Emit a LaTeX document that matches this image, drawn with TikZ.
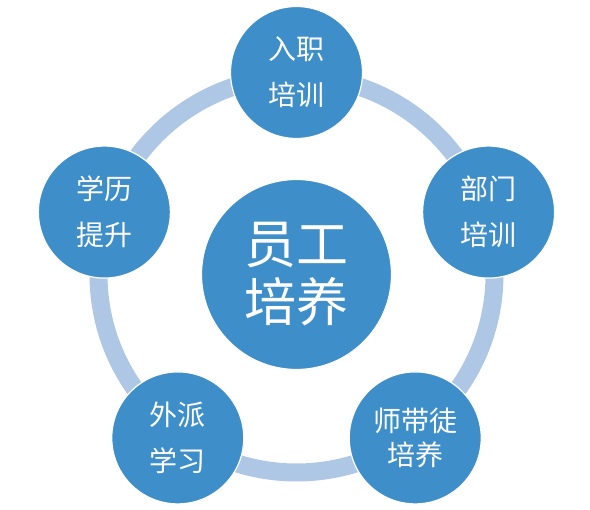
\documentclass[tikz,border=0pt]{standalone}
\usepackage{fontspec}
\newfontfamily\cjk{Noto Sans CJK SC}
\definecolor{ballblue}{RGB}{61,142,201}
\definecolor{ringblue}{RGB}{174,199,228}
\tikzset{
  ball/.style={circle, fill=ballblue, draw=white, line width=1.2pt, inner sep=0pt,
    minimum size=132pt, text=white, align=center, font=\cjk\fontsize{28pt}{46pt}\selectfont},
  hub/.style={ball, minimum size=190pt, font=\cjk\fontsize{52pt}{58pt}\selectfont},
}
\begin{document}
\begin{tikzpicture}[x=1pt, y=1pt]
  \useasboundingbox (-296.5,-235.5) rectangle (293.5,274.5);
  \coordinate (mid) at (0,0);
  \draw[ringblue, line width=18pt] (mid) circle (198);
  \node[hub] (hub) at (mid) {员工\\培养};
  \foreach \a/\nm/\txt in {90/rz/入职\\培训, 18/bm/部门\\培训, 234/wp/外派\\学习, 162/xl/学历\\提升}
    \node[ball] (\nm) at (\a:202) {\txt};
  \node[ball, font=\cjk\fontsize{28pt}{34pt}\selectfont] (sd) at (-54:202) {师带徒\\培养};
\end{tikzpicture}
\end{document}
